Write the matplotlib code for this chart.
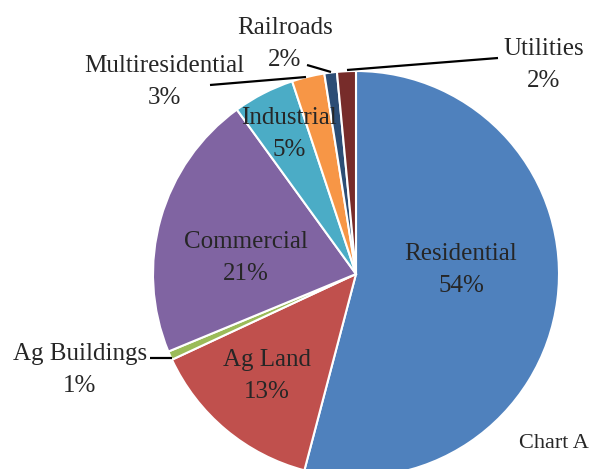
import matplotlib
matplotlib.use('Agg')
import matplotlib.pyplot as plt

categories = ['Residential', 'Ag Land', 'Ag Buildings', 'Commercial',
              'Industrial', 'Multiresidential', 'Railroads', 'Utilities']
values = [54.2, 14.0, 0.7, 21.3, 4.9, 2.6, 1.0, 1.5]
pct_labels = ['54%', '13%', '1%', '21%', '5%', '3%', '2%', '2%']
colors = ['#4F81BD', '#C0504D', '#9BBB59', '#8064A2',
          '#4BACC6', '#F79646', '#2C4D75', '#772C2A']
chart_note = 'Chart A'

W, H = 594, 469
plt.rcParams['font.family'] = ['Liberation Serif', 'DejaVu Serif']
fig = plt.figure(figsize=(W / 100, H / 100), dpi=100)
ax = fig.add_axes([0, 0, 1, 1])

cx, cy, r = 356, H - 274, 203
ax.pie(values, colors=colors, startangle=90, counterclock=False,
       center=(cx, cy), radius=r,
       wedgeprops=dict(edgecolor='white', linewidth=1.5), frame=True)
ax.set_xlim(0, W)
ax.set_ylim(0, H)
ax.set_aspect('equal')
ax.axis('off')

# label block centres (pixel coords from top-left)
label_pos = {
    'Residential': (461, 270),
    'Ag Land': (267, 376),
    'Ag Buildings': (80, 370),
    'Commercial': (246, 258),
    'Industrial': (289, 134),
    'Multiresidential': (164, 82),
    'Railroads': (285, 44),
    'Utilities': (544, 65),
}
txt_color = '#262626'
for cat, pct in zip(categories, pct_labels):
    x, y = label_pos[cat]
    ax.text(x, H - y, f'{cat}\n{pct}', ha='center', va='center',
            fontsize=18, color=txt_color, linespacing=1.55)

leaders = [
    ((150, 358), (172, 358)),
    ((210, 85), (306, 77)),
    ((307, 65), (331, 72)),
    ((347, 70), (498, 58)),
]
for (x0, y0), (x1, y1) in leaders:
    ax.plot([x0, x1], [H - y0, H - y1], color='black', lw=1.6,
            solid_capstyle='butt')

ax.text(554, H - 443, chart_note, ha='center', va='center', fontsize=16,
        color=txt_color)

fig.savefig('out.png', dpi=100)
